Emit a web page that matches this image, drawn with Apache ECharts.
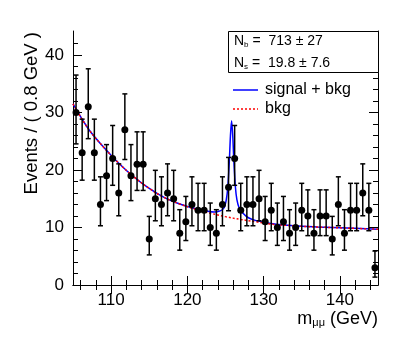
<!DOCTYPE html>
<html>
<head>
<meta charset="utf-8">
<script src="https://cdn.jsdelivr.net/npm/echarts@6/dist/echarts.min.js"></script>
<style>
  html, body { margin: 0; padding: 0; background: #fff; }
  #chart { width: 415px; height: 351px; }
</style>
</head>
<body>
<div id="chart"></div>
<script>
// bin centres (0.8 GeV bins from 105 to 145) and event counts
var binCenters = [
  105.4, 106.2, 107.0, 107.8, 108.6, 109.4, 110.2, 111.0, 111.8, 112.6,
  113.4, 114.2, 115.0, 115.8, 116.6, 117.4, 118.2, 119.0, 119.8, 120.6,
  121.4, 122.2, 123.0, 123.8, 124.6, 125.4, 126.2, 127.0, 127.8, 128.6,
  129.4, 130.2, 131.0, 131.8, 132.6, 133.4, 134.2, 135.0, 135.8, 136.6,
  137.4, 138.2, 139.0, 139.8, 140.6, 141.4, 142.2, 143.0, 143.8, 144.6
]
var counts = [
  30, 23, 31, 23, 14, 19, 22, 16, 27, 19,
  21, 21, 8, 15, 14, 16, 15, 9, 11, 14,
  13, 13, 10, 9, 14, 17, 22, 13, 14, 14,
  15, 11, 13, 10, 11, 9, 10, 13, 12, 9,
  12, 12, 8, 14, 9, 13, 13, 16, 13, 3
]

// fit curves
var bkgX = [105, 107, 109, 111, 113, 115, 117, 119, 121, 123, 125, 127, 129, 131, 134, 137, 141, 145]
var bkgY = [31.5, 27.2, 24.0, 21.2, 18.8, 16.8, 15.2, 14.1, 13.2, 12.5, 11.9, 11.4, 11.0, 10.6, 10.3, 10.1, 9.9, 9.7]

var sigX = [105, 107, 109, 111, 113, 115, 117, 119, 121, 122.5, 123.5, 124.3, 124.8, 125.1, 125.3, 125.5,
  125.65, 125.8, 125.95, 126.1, 126.3, 126.5, 126.8, 127.3, 128, 129, 131, 134, 137, 141, 145]
var sigY = [31.5, 27.2, 24.0, 21.2, 18.8, 16.8, 15.2, 14.1, 13.3, 12.9, 12.7, 12.9, 13.4, 14.8, 17, 21.5,
  26, 28.6, 26, 21.5, 17, 14.8, 13.4, 12.5, 11.7, 11.2, 10.7, 10.3, 10.1, 9.9, 9.7]

var xMajor = [110, 120, 130, 140]
var xMinor = []
for (var v = 106; v < 145; v += 2) { if (v % 10 !== 0) xMinor.push(v) }
var yMajor = [0, 10, 20, 30, 40]
var yMinor = []
for (var w = 2; w < 44; w += 2) { if (w % 10 !== 0) yMinor.push(w) }

var nbText = '713 \u00b1 27'
var nsText = '19.8 \u00b1 7.6'
var legendNames = ['signal + bkg', 'bkg']

// poisson (68%) intervals, Wilson-Hilferty approximation
function upErr(n) {
  var a = n + 1
  return a * Math.pow(1 - 1 / (9 * a) + 1 / (3 * Math.sqrt(a)), 3)
}
function loErr(n) {
  if (n === 0) return 0
  return n * Math.pow(1 - 1 / (9 * n) - 1 / (3 * Math.sqrt(n)), 3)
}

var points = binCenters.map(function(x, i) { return [x, counts[i]] })
var bars = binCenters.map(function(x, i) { return [x, loErr(counts[i]), upErr(counts[i])] })
var bkgLine = bkgX.map(function(x, i) { return [x, bkgY[i]] })
var sigLine = sigX.map(function(x, i) { return [x, sigY[i]] })

var font = 'Liberation Sans, Arial, Helvetica, sans-serif'

function xAx(pos, ticks, len, labels) {
  return {
    type: 'value', position: pos, min: 105, max: 145,
    axisLine: { show: len > 6, lineStyle: { color: '#000', width: 1 } },
    axisTick: { show: true, inside: true, length: len, customValues: ticks, lineStyle: { color: '#000' } },
    axisLabel: labels ? { show: true, customValues: ticks, color: '#000', fontSize: 17, fontFamily: font, margin: 7 } : { show: false },
    splitLine: { show: false }
  }
}
function yAx(pos, ticks, len, labels) {
  return {
    type: 'value', position: pos, min: 0, max: 44.2,
    axisLine: { show: len > 6, lineStyle: { color: '#000', width: 1 } },
    axisTick: { show: true, inside: true, length: len, customValues: ticks, lineStyle: { color: '#000' } },
    axisLabel: labels ? { show: true, customValues: ticks, color: '#000', fontSize: 17, fontFamily: font, margin: 9 } : { show: false },
    splitLine: { show: false }
  }
}

var chart = echarts.init(document.getElementById('chart'))
var option = {
  animation: false,
  backgroundColor: '#fff',
  grid: { left: 73, right: 37, top: 31, bottom: 66, outerBoundsMode: 'none' },
  xAxis: [
    xAx('bottom', xMajor, 9, true),
    xAx('bottom', xMinor, 5, false),
    xAx('top', xMajor, 9, false),
    xAx('top', xMinor, 5, false)
  ],
  yAxis: [
    yAx('left', yMajor, 9, true),
    yAx('left', yMinor, 5, false),
    yAx('right', yMajor, 9, false),
    yAx('right', yMinor, 5, false)
  ],
  series: [
    {
      name: legendNames[0], type: 'line', data: sigLine, smooth: 0.3,
      symbol: 'none', showSymbol: false,
      lineStyle: { color: '#0000ff', width: 1.5 }, itemStyle: { color: '#0000ff' },
      z: 3
    },
    {
      name: legendNames[1], type: 'line', data: bkgLine, smooth: 0.4,
      symbol: 'none', showSymbol: false,
      lineStyle: { color: '#ff0000', width: 1.5, type: [2, 2] }, itemStyle: { color: '#ff0000' },
      z: 4
    },
    {
      type: 'custom', data: bars, z: 5,
      renderItem: function(params, api) {
        var x = api.value(0)
        var lo = api.coord([x, api.value(1)])
        var hi = api.coord([x, api.value(2)])
        var c = 2.5
        var st = { stroke: '#000', lineWidth: 1.5 }
        return {
          type: 'group',
          children: [
            { type: 'line', shape: { x1: lo[0], y1: lo[1], x2: hi[0], y2: hi[1] }, style: st },
            { type: 'line', shape: { x1: lo[0] - c, y1: lo[1], x2: lo[0] + c, y2: lo[1] }, style: st },
            { type: 'line', shape: { x1: hi[0] - c, y1: hi[1], x2: hi[0] + c, y2: hi[1] }, style: st }
          ]
        }
      }
    },
    {
      type: 'scatter', data: points, symbol: 'circle', symbolSize: 7,
      itemStyle: { color: '#000', opacity: 1 }, z: 6
    }
  ],
  graphic: [
    {
      type: 'rect', left: 228, top: 31, z: 10,
      shape: { width: 150, height: 41 },
      style: { fill: '#fff', stroke: '#000', lineWidth: 1 }
    },
    {
      type: 'text', x: 234, y: 41, z: 11,
      style: {
        text: '{n|N}{s|b}{n| =  ' + nbText + '}',
        verticalAlign: 'middle',
        rich: {
          n: { fontSize: 14, fontFamily: font, fill: '#000' },
          s: { fontSize: 8, fontFamily: font, fill: '#000', padding: [7, 0, 0, 0] }
        }
      }
    },
    {
      type: 'text', x: 234, y: 63, z: 11,
      style: {
        text: '{n|N}{s|s}{n| =  ' + nsText + '}',
        verticalAlign: 'middle',
        rich: {
          n: { fontSize: 14, fontFamily: font, fill: '#000' },
          s: { fontSize: 8, fontFamily: font, fill: '#000', padding: [7, 0, 0, 0] }
        }
      }
    },
    // legend
    {
      type: 'line', z: 11,
      shape: { x1: 233, y1: 90, x2: 258, y2: 90 },
      style: { stroke: '#0000ff', lineWidth: 1.5 }
    },
    {
      type: 'text', x: 265, y: 90, z: 11,
      style: { text: legendNames[0], fontSize: 16, fontFamily: font, fill: '#000', verticalAlign: 'middle' }
    },
    {
      type: 'line', z: 11,
      shape: { x1: 233, y1: 109, x2: 258, y2: 109 },
      style: { stroke: '#ff0000', lineWidth: 1.5, lineDash: [2, 2] }
    },
    {
      type: 'text', x: 265, y: 109, z: 11,
      style: { text: legendNames[1], fontSize: 16, fontFamily: font, fill: '#000', verticalAlign: 'middle' }
    },
    {
      type: 'text', x: 32, y: 32, rotation: Math.PI / 2,
      style: {
        text: 'Events / ( 0.8 GeV )', fontSize: 18.5, fontFamily: font, fill: '#000',
        align: 'right', verticalAlign: 'middle'
      }
    },
    {
      type: 'text', x: 378, y: 319,
      style: {
        text: '{n|m}{s|\u03bc\u03bc}{n| (GeV)}',
        align: 'right', verticalAlign: 'middle',
        rich: {
          n: { fontSize: 18, fontFamily: font, fill: '#000' },
          s: { fontSize: 11, fontFamily: font, fill: '#000', padding: [8, 0, 0, 0] }
        }
      }
    }
  ]
}
chart.setOption(option)
</script>
</body>
</html>
